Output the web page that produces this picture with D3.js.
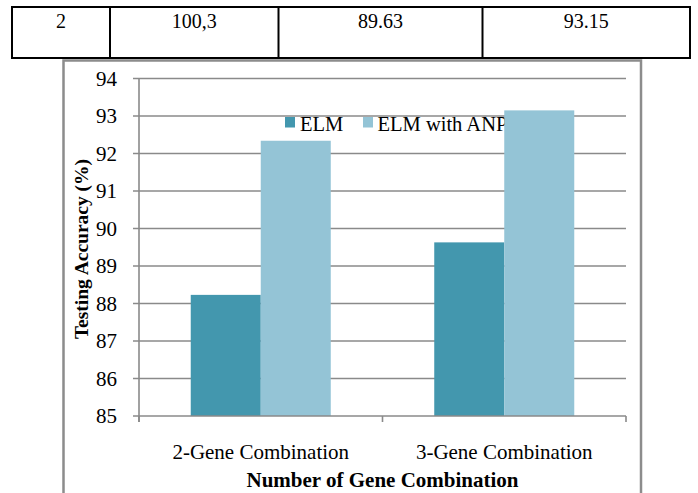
<!DOCTYPE html>
<html>
<head>
<meta charset="utf-8">
<script src="https://cdn.jsdelivr.net/npm/d3@7"></script>
<style>
  html, body { margin: 0; padding: 0; background: #fff; }
  svg { display: block; }
</style>
</head>
<body>
<svg id="chart" width="698" height="493"></svg>
<script>
// Table row shown above the figure
const tableCells = ["2", "100,3", "89.63", "93.15"];

// Chart data
const categories = ["2-Gene Combination", "3-Gene Combination"];
const seriesNames = ["ELM", "ELM with ANP"];
const elmValues = [88.23, 89.63];
const elmAnpValues = [92.34, 93.15];
const yTicks = [85, 86, 87, 88, 89, 90, 91, 92, 93, 94];
const colors = ["#4397ae", "#94c4d6"];

const serif = "'Liberation Serif', 'Times New Roman', Tinos, serif";

const svg = d3.select("#chart")
  .attr("font-family", serif)
  .style("font-family", serif);

// ---- table row ----
const colEdges = [12, 110, 278.5, 482.5, 690];
const table = svg.append("g");
table.append("rect")
  .attr("x", colEdges[0]).attr("y", 7)
  .attr("width", colEdges[4] - colEdges[0]).attr("height", 51)
  .attr("fill", "none").attr("stroke", "#000").attr("stroke-width", 2);
table.selectAll("line.div").data(colEdges.slice(1, 4)).join("line")
  .attr("x1", d => d).attr("x2", d => d).attr("y1", 7).attr("y2", 58)
  .attr("stroke", "#000").attr("stroke-width", 2);
table.selectAll("text").data(tableCells).join("text")
  .attr("x", (d, i) => (colEdges[i] + colEdges[i + 1]) / 2)
  .attr("y", 28)
  .attr("text-anchor", "middle")
  .attr("font-size", 20)
  .text(d => d);

// ---- chart frame ----
svg.append("rect")
  .attr("x", 63.5).attr("y", 60.5).attr("width", 577.5).attr("height", 460)
  .attr("fill", "#fff").attr("stroke", "#8c8c8c").attr("stroke-width", 2.5);

// ---- scales ----
const plot = { left: 139, right: 626, top: 78.5, bottom: 416 };
const y = d3.scaleLinear().domain([85, 94]).range([plot.bottom, plot.top]);
const x0 = d3.scaleBand().domain(categories)
  .range([plot.left, plot.right])
  .paddingInner(0.425).paddingOuter(0.2125);
const x1 = d3.scaleBand().domain(seriesNames).range([0, x0.bandwidth()]);

const gridColor = "#8a8a8a";

// gridlines with left tick stubs
svg.append("g").selectAll("line").data(yTicks.slice(1)).join("line")
  .attr("x1", plot.left - 6).attr("x2", plot.right)
  .attr("y1", d => y(d)).attr("y2", d => y(d))
  .attr("stroke", gridColor).attr("stroke-width", 1.6);

// y tick labels
svg.append("g").selectAll("text").data(yTicks).join("text")
  .attr("x", 117).attr("y", d => y(d))
  .attr("dy", "0.35em")
  .attr("text-anchor", "end")
  .attr("font-size", 21)
  .text(d => d);

// ---- legend (drawn beneath the bars) ----
const legend = svg.append("g");
const legendItems = [
  { name: seriesNames[0], sx: 285, tx: 300 },
  { name: seriesNames[1], sx: 363, tx: 377.5 }
];
legendItems.forEach((it, i) => {
  legend.append("rect")
    .attr("x", it.sx).attr("y", 117).attr("width", 10).attr("height", 10.5)
    .attr("fill", colors[i]);
  legend.append("text")
    .attr("x", it.tx).attr("y", 131)
    .attr("font-size", 20.5)
    .text(it.name);
});

// ---- bars ----
const rows = categories.map((c, i) => ({ cat: c, vals: [elmValues[i], elmAnpValues[i]] }));
const groups = svg.append("g").selectAll("g").data(rows).join("g")
  .attr("transform", d => `translate(${x0(d.cat)},0)`);
groups.selectAll("rect").data(d => d.vals.map((v, i) => ({ s: seriesNames[i], v, i }))).join("rect")
  .attr("x", d => x1(d.s))
  .attr("y", d => y(d.v))
  .attr("width", x1.bandwidth())
  .attr("height", d => y(85) - y(d.v))
  .attr("fill", d => colors[d.i]);

// ---- axes lines ----
svg.append("line")
  .attr("x1", plot.left).attr("x2", plot.left)
  .attr("y1", plot.top).attr("y2", plot.bottom + 6)
  .attr("stroke", gridColor).attr("stroke-width", 1.6);
svg.append("line")
  .attr("x1", plot.left - 6).attr("x2", plot.right)
  .attr("y1", plot.bottom).attr("y2", plot.bottom)
  .attr("stroke", gridColor).attr("stroke-width", 1.6);
const catEdges = [plot.left, (plot.left + plot.right) / 2, plot.right];
svg.append("g").selectAll("line").data(catEdges).join("line")
  .attr("x1", d => d).attr("x2", d => d)
  .attr("y1", plot.bottom).attr("y2", plot.bottom + 6)
  .attr("stroke", gridColor).attr("stroke-width", 1.6);

// category labels
svg.append("g").selectAll("text").data(categories).join("text")
  .attr("x", d => x0(d) + x0.bandwidth() / 2)
  .attr("y", 459)
  .attr("text-anchor", "middle")
  .attr("font-size", 21)
  .text(d => d);

// axis titles
svg.append("text")
  .attr("x", 382.5).attr("y", 487)
  .attr("text-anchor", "middle")
  .attr("font-size", 21).attr("font-weight", "bold")
  .text("Number of Gene Combination");
svg.append("text")
  .attr("transform", "translate(88,249) rotate(-90)")
  .attr("text-anchor", "middle")
  .attr("font-size", 19.5).attr("font-weight", "bold")
  .text("Testing Accuracy (%)");
</script>
</body>
</html>
